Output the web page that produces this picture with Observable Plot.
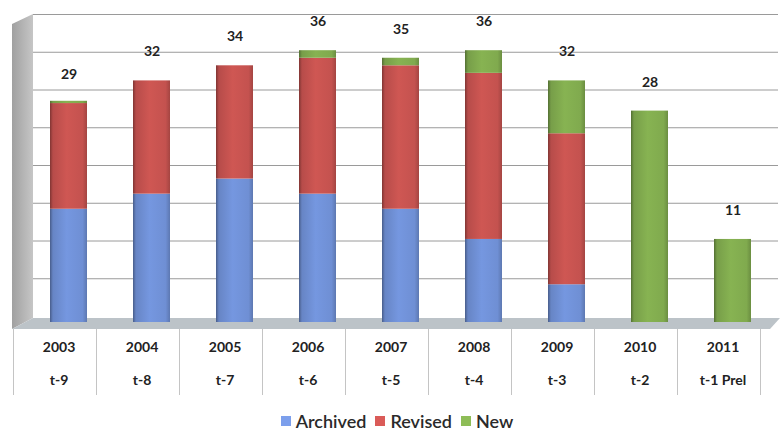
<!DOCTYPE html>
<html>
<head>
<meta charset="utf-8">
<script src="https://cdn.jsdelivr.net/npm/d3@7"></script>
<script src="https://cdn.jsdelivr.net/npm/@observablehq/plot@0.6"></script>
<style>
  html, body { margin: 0; padding: 0; background: #fff; }
  #chart { width: 780px; height: 431px; position: relative; font-family: Lato, "Open Sans", sans-serif; }
  .legend { display: flex; justify-content: center; align-items: center; gap: 9px; height: 21px; margin-left: 14px; font-size: 18px; font-weight: 600; color: #2a2a2a; }
  .legend span.sw { display: inline-block; width: 10px; height: 10px; margin-right: 5px; }
  .legend .item { display: flex; align-items: center; }
</style>
</head>
<body>
<div id="chart"></div>
<script>
const years    = ["2003","2004","2005","2006","2007","2008","2009","2010","2011"];
const periods  = ["t-9","t-8","t-7","t-6","t-5","t-4","t-3","t-2","t-1 Prel"];
const archived = [15, 17, 19, 17, 15, 11, 5, 0, 0];
const revised  = [14, 15, 15, 18, 19, 22, 20, 0, 0];
const newer    = [0.3, 0, 0, 1, 1, 3, 7, 28, 11];
const totals   = [29, 32, 34, 36, 35, 36, 32, 28, 11];
const series   = ["Archived", "Revised", "New"];
const seriesColors = ["#6f8fd4", "#c4524f", "#80aa4e"];
const gridTicks = [5, 10, 15, 20, 25, 30, 35, 40];

const rows = [];
years.forEach((y, i) => {
  rows.push({year: y, series: "Archived", value: archived[i]});
  rows.push({year: y, series: "Revised", value: revised[i]});
  rows.push({year: y, series: "New", value: newer[i]});
});
const labels = years.map((y, i) => ({year: y, total: totals[i]}));
const periodOf = Object.fromEntries(years.map((y, i) => [y, periods[i]]));

const plot = Plot.plot({
  width: 780,
  height: 410,
  marginLeft: 13,
  marginRight: 12,
  marginTop: 20,
  marginBottom: 88,
  style: {fontFamily: "Lato, 'Open Sans', sans-serif", background: "transparent"},
  x: {type: "band", domain: years, paddingInner: 0.55, paddingOuter: 0.275, axis: null},
  y: {domain: [0, 40], axis: null},
  color: {domain: series, range: ["url(#gA)", "url(#gR)", "url(#gN)"]},
  marks: [
    Plot.ruleY(gridTicks, {stroke: "#9a9a9a", strokeWidth: 1, insetLeft: 20, insetRight: -10, dy: -6}),
    Plot.barY(rows, Plot.stackY({x: "year", y: "value", fill: "series", order: series, dx: 10})),
    Plot.text(labels, {x: "year", y: "total", text: d => String(d.total), dx: 10, dy: -29,
      fontSize: 14, fontWeight: "bold", fill: "#222"}),
    Plot.axisX({tickSize: 0, tickPadding: 20, tickFormat: d => d, fontSize: 14, fontWeight: "bold", color: "#222", label: null}),
    Plot.axisX({tickSize: 0, tickPadding: 53, tickFormat: d => periodOf[d], fontSize: 14, fontWeight: "bold", color: "#222", label: null})
  ]
});

const svg = d3.select(plot);
const defs = svg.insert("defs", ":first-child");
const ids = ["gA", "gR", "gN"];
seriesColors.forEach((c, i) => {
  const base = d3.color(c);
  const g = defs.append("linearGradient").attr("id", ids[i]).attr("x1", 0).attr("x2", 1).attr("y1", 0).attr("y2", 0);
  g.append("stop").attr("offset", "0%").attr("stop-color", base.darker(1.2));
  g.append("stop").attr("offset", "8%").attr("stop-color", base.darker(0.2));
  g.append("stop").attr("offset", "45%").attr("stop-color", base.brighter(0.15));
  g.append("stop").attr("offset", "88%").attr("stop-color", base);
  g.append("stop").attr("offset", "100%").attr("stop-color", base.darker(0.5));
});
const wg = defs.append("linearGradient").attr("id", "wall").attr("x1", 0).attr("x2", 1);
wg.append("stop").attr("offset", "0%").attr("stop-color", "#a0a0a0");
wg.append("stop").attr("offset", "100%").attr("stop-color", "#c6c6c6");

const xs = plot.scale("x"), ys = plot.scale("y");
const left = xs.range[0], right = xs.range[1];
const y0 = ys.apply(0), yTop = ys.apply(40) - 6;
const step = xs.step;

// 3-D decoration: side wall and floor (drawn under the marks)
const deco = svg.insert("g", "defs + *");
deco.append("polygon")
  .attr("points", [[left - 1, yTop + 10], [left + 20, yTop], [left + 20, y0 - 4], [left - 1, y0 + 7]].map(p => p.join(",")).join(" "))
  .attr("fill", "url(#wall)");
deco.append("polygon")
  .attr("points", [[left + 20, y0 - 4], [right + 12, y0 - 4], [right + 2, y0 + 7], [left - 1, y0 + 7]].map(p => p.join(",")).join(" "))
  .attr("fill", "#bcc3c8");
// table separators
const tg = svg.append("g").attr("stroke", "#c4c4c4").attr("stroke-width", 1);
for (let i = 0; i <= years.length; i++) {
  const x = left + i * step + 0.5;
  tg.append("line").attr("x1", x).attr("x2", x).attr("y1", y0 + 7).attr("y2", y0 + 73);
}

const container = document.getElementById("chart");
container.appendChild(plot);
const legend = document.createElement("div");
legend.className = "legend";
series.forEach((s, i) => {
  const item = document.createElement("div");
  item.className = "item";
  const sw = document.createElement("span");
  sw.className = "sw";
  sw.style.background = d3.color(seriesColors[i]).brighter(0.3);
  item.appendChild(sw);
  item.appendChild(document.createTextNode(s));
  legend.appendChild(item);
});
container.appendChild(legend);
</script>
</body>
</html>
